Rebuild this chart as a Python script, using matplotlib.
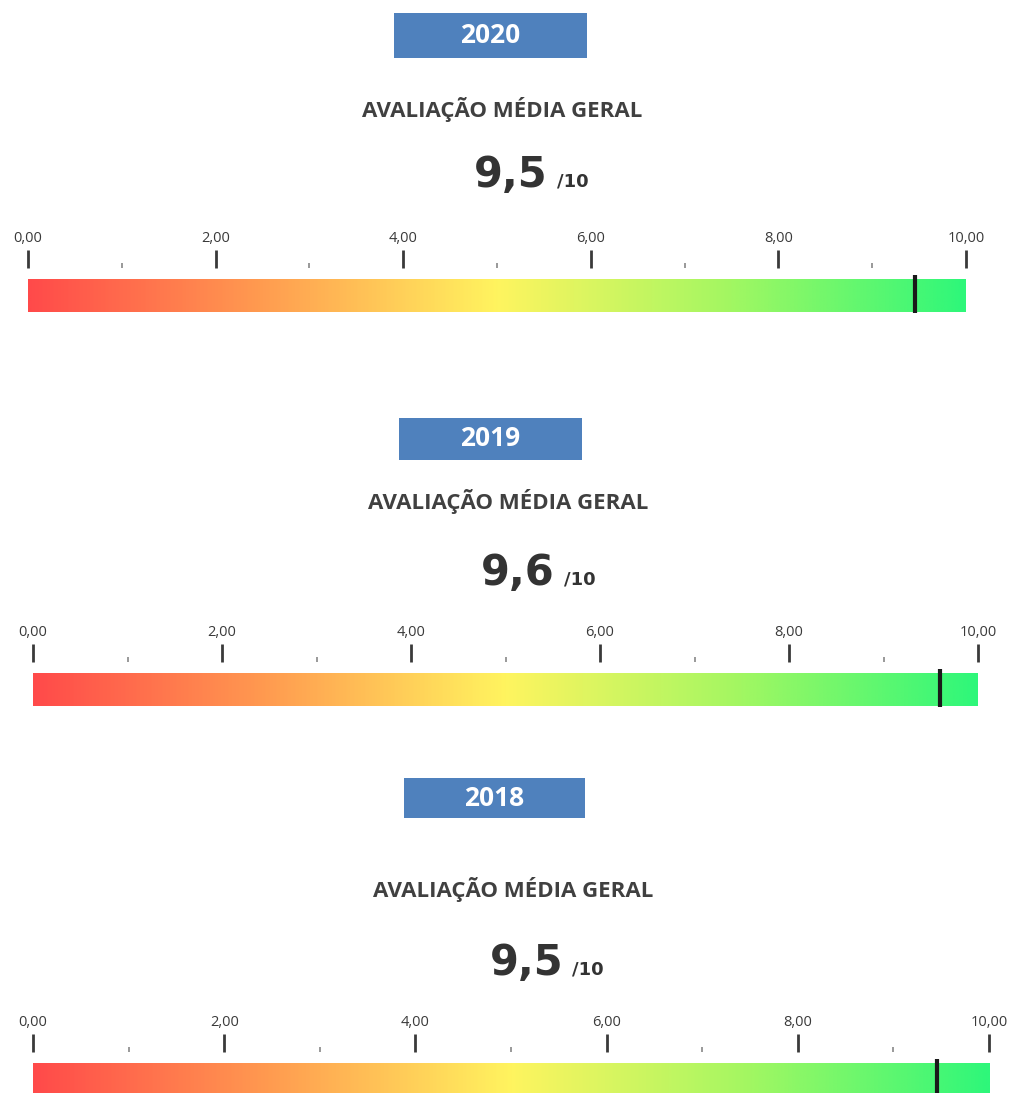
import numpy as np
import matplotlib.pyplot as plt
from matplotlib.colors import LinearSegmentedColormap
from matplotlib.patches import Rectangle

# data
years = ['2020', '2019', '2018']
score_labels = ['9,5', '9,6', '9,5']
marker_values = [9.46, 9.60, 9.46]
major_ticks = [0, 2, 4, 6, 8, 10]
minor_ticks = [1, 3, 5, 7, 9]
tick_labels = ['0,00', '2,00', '4,00', '6,00', '8,00', '10,00']

W, H = 1015, 1093
fig = plt.figure(figsize=(W / 100, H / 100), dpi=100)
fig.patch.set_facecolor('white')

cmap = LinearSegmentedColormap.from_list('nota', [
    (0.0, '#ff4a4a'), (0.25, '#ff9c50'), (0.5, '#fff45f'),
    (0.75, '#a2f762'), (1.0, '#2ef77a')])

# layout of each panel in pixels: box (x0, x1, y0, y1), title centre, score baseline
# and right edge, bar axis (x0, x1, ytick, ybottom)
panels = [
    dict(box=(394, 587, 13, 58), title=(502, 109), score=(548, 187), bar=(28, 966, 268, 312)),
    dict(box=(399, 582, 418, 460), title=(508, 501), score=(555, 585), bar=(33, 978, 662, 706)),
    dict(box=(404, 585, 778, 818), title=(513, 889), score=(563, 975), bar=(33, 989, 1052, 1096)),
]


def fx(x):
    return x / W


def fy(y):
    return 1 - y / H


dark = '#3a3a3a'
for year, lab, val, p in zip(years, score_labels, marker_values, panels):
    x0, x1, y0, y1 = p['box']
    fig.patches.append(Rectangle((fx(x0), fy(y1)), fx(x1 - x0), (y1 - y0) / H,
                                 transform=fig.transFigure, facecolor='#4f81bd',
                                 edgecolor='none'))
    fig.text(fx((x0 + x1) / 2), fy((y0 + y1) / 2), year, color='white', fontsize=19,
             fontweight='bold', family='Open Sans', ha='center', va='center')

    tx, ty = p['title']
    fig.text(fx(tx), fy(ty), 'AVALIAÇÃO MÉDIA GERAL', color='#404040', fontsize=16,
             fontweight='bold', family='Open Sans', ha='center', va='center')

    sx, sy = p['score']
    fig.text(fx(sx), fy(sy), lab, color='#333333', fontsize=30, fontweight='bold',
             family='DejaVu Sans', ha='right', va='baseline')
    fig.text(fx(sx + 9), fy(sy), '/10', color='#333333', fontsize=13, fontweight='bold',
             family='DejaVu Sans', ha='left', va='baseline')

    bx0, bx1, by_top, by_bot = p['bar']
    ax = fig.add_axes([fx(bx0), fy(by_bot), fx(bx1 - bx0), (by_bot - by_top) / H])
    grad = np.linspace(0, 1, 512).reshape(1, -1)
    ax.imshow(grad, cmap=cmap, aspect='auto', extent=[0, 10, 0, 0.75], zorder=1)
    ax.vlines(val, -0.02, 0.84, color='#1a1a1a', linewidth=3, zorder=3, clip_on=False)
    ax.set_xlim(0, 10)
    ax.set_ylim(0, 1)
    ax.xaxis.tick_top()
    ax.set_xticks(major_ticks)
    ax.set_xticklabels(tick_labels, fontsize=10.5, color=dark, family='Open Sans')
    ax.set_xticks(minor_ticks, minor=True)
    ax.tick_params(axis='x', which='major', direction='out', length=13, width=2,
                   color=dark, pad=3)
    ax.tick_params(axis='x', which='minor', direction='out', length=3.5, width=1.2,
                   color='#888888')
    ax.set_yticks([])
    for s in ax.spines.values():
        s.set_visible(False)

fig.savefig('out.png', dpi=100, facecolor='white')
